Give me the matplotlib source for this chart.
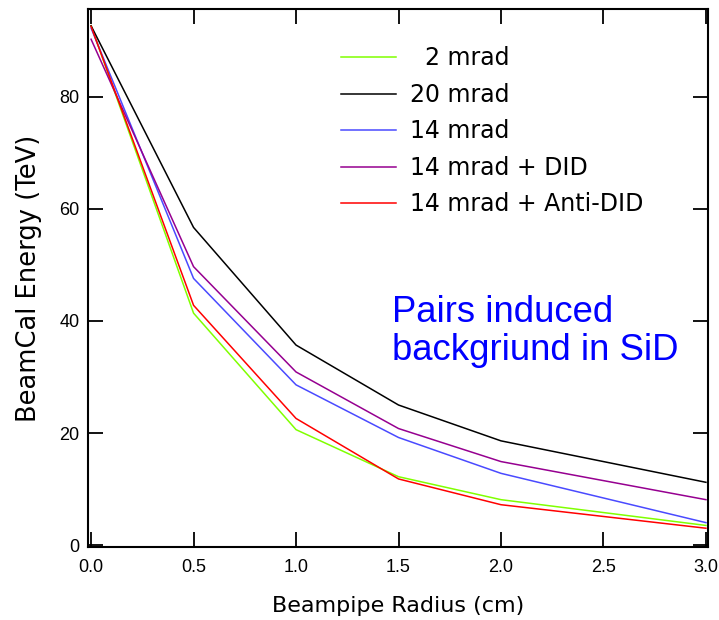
import matplotlib.pyplot as plt
import numpy as np

# beampipe radius (cm) and BeamCal energy (TeV)
radius = [0.0, 0.5, 1.0, 1.5, 2.0, 3.0]
e_2mrad = [92.7, 41.4, 20.6, 12.2, 8.1, 3.5]
e_20mrad = [92.7, 56.7, 35.7, 25.0, 18.6, 11.2]
e_14mrad = [92.3, 47.6, 28.6, 19.2, 12.8, 4.0]
e_14did = [90.3, 49.7, 30.9, 20.8, 14.9, 8.1]
e_14anti = [92.6, 42.8, 22.6, 11.8, 7.2, 3.0]

labels = ["  2 mrad", "20 mrad", "14 mrad", "14 mrad + DID", "14 mrad + Anti-DID"]
colors = ["#80ff00", "#000000", "#4a4aff", "#960090", "#ff0000"]

fig = plt.figure(figsize=(7.19, 6.20), dpi=100)
ax = fig.add_axes([88/719, 1-547/620, (708-88)/719, (547-9)/620])

series = [e_2mrad, e_20mrad, e_14mrad, e_14did, e_14anti]
for vals, lab, col in zip(series, labels, colors):
    ax.plot(radius, vals, color=col, lw=1.1, label=lab)

ax.set_xlim(-0.015, 3.01)
ax.set_ylim(-0.35, 95.7)
ax.set_xticks(np.arange(0, 3.01, 0.5))
ax.set_yticks([0, 20, 40, 60, 80])
ax.set_xticklabels(["%.1f" % v for v in np.arange(0, 3.01, 0.5)])

ax.tick_params(direction="in", length=11, width=1.3, top=True, right=True,
               labelsize=13)
ax.tick_params(axis="x", pad=9)
ax.tick_params(axis="y", pad=6)
for lbl in ax.get_xticklabels() + ax.get_yticklabels():
    lbl.set_family("Liberation Sans")
for sp in ax.spines.values():
    sp.set_linewidth(1.5)

ax.set_xlabel("Beampipe Radius (cm)", fontsize=16, family="DejaVu Sans", labelpad=14)
ax.set_ylabel("BeamCal Energy (TeV)", fontsize=18.5, family="DejaVu Sans")
ax.yaxis.set_label_coords(-(88-42)/620, 0.5)

leg = ax.legend(loc="upper left", bbox_to_anchor=(0.374, 0.970), frameon=False,
                fontsize=17, handlelength=2.33, handletextpad=0.6, labelspacing=0.53)

ax.text(392/719, 1-295/620, "Pairs induced\nbackgriund in SiD", transform=fig.transFigure,
        color="#0000ff", fontsize=26.3, family="Liberation Sans", va="top", ha="left",
        linespacing=1.12)

fig.savefig("out.png", dpi=100)
